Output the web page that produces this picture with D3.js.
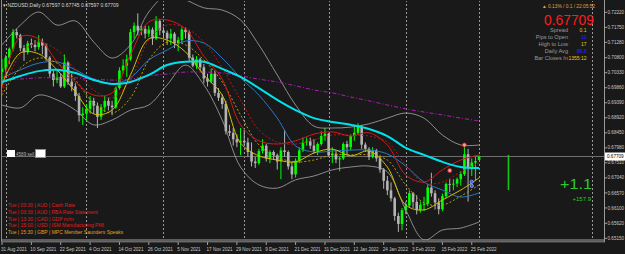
<!DOCTYPE html>
<html>
<head>
<meta charset="utf-8">
<script src="https://cdnjs.cloudflare.com/ajax/libs/d3/7.8.5/d3.min.js"></script>
<style>
body { margin: 0; background: #191919; }
text { font-family: "Liberation Sans", Arial, sans-serif; }
</style>
</head>
<body>
<div id="chart"></div>
<script>
// NZDUSD daily, 31 Aug 2021 .. 1 Mar 2022 (one value per bar)
var opens = [0.7035,0.7046,0.7080,0.7108,0.7160,0.7150,0.7110,0.7097,0.7125,0.7120,0.7113,0.7130,0.7118,0.7080,0.7030,0.7010,0.7020,0.6990,0.7065,0.7005,
  0.6990,0.6960,0.6900,0.6905,0.6920,0.6945,0.6930,0.6895,0.6925,0.6945,0.6930,0.6925,0.6985,0.7040,0.7055,0.7075,0.7160,0.7180,0.7165,0.7170,
  0.7155,0.7168,0.7140,0.7195,0.7165,0.7158,0.7140,0.7155,0.7125,0.7135,0.7168,0.7160,0.7080,0.7055,0.7075,0.7050,0.7015,0.7005,0.7030,0.6970,
  0.6955,0.6935,0.6850,0.6845,0.6825,0.6815,0.6820,0.6815,0.6785,0.6755,0.6750,0.6788,0.6805,0.6765,0.6785,0.6775,0.6755,0.6790,0.6785,0.6740,
  0.6715,0.6758,0.6790,0.6815,0.6818,0.6805,0.6788,0.6810,0.6835,0.6842,0.6775,0.6780,0.6762,0.6765,0.6810,0.6800,0.6835,0.6845,0.6865,0.6808,
  0.6795,0.6770,0.6790,0.6765,0.6730,0.6695,0.6665,0.6640,0.6585,0.6560,0.6603,0.6617,0.6656,0.6629,0.6603,0.6620,0.6623,0.6674,0.6656,0.6627,
  0.6606,0.6647,0.6685,0.6683,0.6686,0.6700,0.6716,0.6778,0.6733,0.6752,0.67597];
var highs = [0.7075,0.7088,0.7112,0.7170,0.7170,0.7155,0.7120,0.7133,0.7140,0.7135,0.7150,0.7140,0.7125,0.7085,0.7040,0.7040,0.7030,0.7090,0.7070,0.7030,
  0.7000,0.6970,0.6925,0.6935,0.6960,0.6955,0.6940,0.6935,0.6960,0.6955,0.6945,0.6990,0.7050,0.7075,0.7090,0.7170,0.7190,0.7219,0.7180,0.7180,
  0.7180,0.7175,0.7210,0.7200,0.7175,0.7165,0.7170,0.7160,0.7145,0.7175,0.7175,0.7165,0.7090,0.7085,0.7080,0.7060,0.7030,0.7045,0.7040,0.6985,
  0.6965,0.6945,0.6870,0.6860,0.6840,0.6860,0.6855,0.6830,0.6815,0.6770,0.6795,0.6825,0.6810,0.6790,0.6790,0.6780,0.6800,0.6855,0.6790,0.6755,
  0.6765,0.6800,0.6830,0.6830,0.6830,0.6825,0.6815,0.6850,0.6860,0.6845,0.6800,0.6790,0.6770,0.6815,0.6820,0.6840,0.6870,0.6875,0.6870,0.6815,
  0.6800,0.6800,0.6795,0.6775,0.6735,0.6710,0.6690,0.6645,0.6595,0.6610,0.6630,0.6665,0.6660,0.6650,0.6630,0.6645,0.6685,0.6720,0.6665,0.6640,
  0.6655,0.6690,0.6700,0.6700,0.6705,0.6725,0.6805,0.6795,0.6765,0.6770,0.67745];
var lows = [0.7005,0.7030,0.7060,0.7100,0.7140,0.7100,0.7070,0.7090,0.7110,0.7100,0.7105,0.7090,0.7070,0.7020,0.6990,0.7000,0.6985,0.6985,0.6995,0.6975,
  0.6945,0.6880,0.6870,0.6880,0.6905,0.6905,0.6860,0.6885,0.6910,0.6915,0.6900,0.6920,0.6980,0.7030,0.7020,0.7070,0.7140,0.7150,0.7150,0.7140,
  0.7145,0.7120,0.7135,0.7150,0.7140,0.7120,0.7120,0.7110,0.7100,0.7125,0.7140,0.7070,0.7050,0.7045,0.7040,0.7000,0.6990,0.7000,0.6960,0.6945,
  0.6920,0.6840,0.6835,0.6805,0.6800,0.6775,0.6805,0.6770,0.6740,0.6735,0.6745,0.6780,0.6755,0.6750,0.6760,0.6730,0.6700,0.6770,0.6730,0.6700,
  0.6705,0.6750,0.6785,0.6805,0.6795,0.6780,0.6775,0.6805,0.6820,0.6770,0.6750,0.6750,0.6725,0.6760,0.6775,0.6790,0.6820,0.6840,0.6795,0.6785,
  0.6760,0.6765,0.6755,0.6720,0.6670,0.6650,0.6630,0.6570,0.6535,0.6540,0.6590,0.6610,0.6610,0.6590,0.6595,0.6600,0.6615,0.6645,0.6605,0.6590,
  0.6600,0.6640,0.6660,0.6665,0.6675,0.6680,0.6710,0.6630,0.6710,0.6695,0.67597];
var closes = [0.7046,0.7080,0.7108,0.7160,0.7150,0.7110,0.7097,0.7125,0.7120,0.7113,0.7130,0.7118,0.7080,0.7030,0.7010,0.7020,0.6990,0.7065,0.7005,0.6990,
  0.6960,0.6900,0.6905,0.6920,0.6945,0.6930,0.6895,0.6925,0.6945,0.6930,0.6925,0.6985,0.7040,0.7055,0.7075,0.7160,0.7180,0.7165,0.7170,0.7155,
  0.7168,0.7140,0.7195,0.7165,0.7158,0.7140,0.7155,0.7125,0.7135,0.7168,0.7160,0.7080,0.7055,0.7075,0.7050,0.7015,0.7005,0.7030,0.6970,0.6955,
  0.6935,0.6850,0.6845,0.6825,0.6815,0.6820,0.6815,0.6785,0.6755,0.6750,0.6788,0.6805,0.6765,0.6785,0.6775,0.6755,0.6790,0.6785,0.6740,0.6715,
  0.6758,0.6790,0.6815,0.6818,0.6805,0.6788,0.6810,0.6835,0.6842,0.6775,0.6780,0.6762,0.6765,0.6810,0.6800,0.6835,0.6845,0.6865,0.6808,0.6795,
  0.6770,0.6790,0.6765,0.6730,0.6695,0.6665,0.6640,0.6585,0.6560,0.6603,0.6617,0.6656,0.6629,0.6603,0.6620,0.6623,0.6674,0.6656,0.6627,0.6606,
  0.6647,0.6685,0.6683,0.6686,0.6700,0.6716,0.6778,0.6733,0.6752,0.6757,0.67709];

// indicator readings, taken every 5th bar
var sampleIdx = [0,5,10,15,20,25,30,35,40,45,50,55,60,65,70,75,80,85,90,95,100,105,110,115,120,125,130];
var maCyan = [0.7004,0.7023,0.7038,0.7042,0.7032,0.7010,0.6998,0.7004,0.7026,0.7057,0.7067,0.7067,0.7045,0.7020,0.6985,0.6948,0.6916,0.6891,0.6879,0.6870,0.6857,0.6835,0.6798,0.6776,0.6754,0.6738,0.6735];
var maPurple = [0.7010,0.7013,0.7017,0.7017,0.7017,0.7013,0.7010,0.7013,0.7023,0.7029,0.7035,0.7035,0.7032,0.7023,0.7013,0.7004,0.6992,0.6979,0.6970,0.6957,0.6945,0.6932,0.6920,0.6910,0.6901,0.6891,0.6882];
var maBlue = [0.7017,0.7042,0.7063,0.7067,0.7042,0.7013,0.6998,0.7017,0.7073,0.7104,0.7132,0.7126,0.7079,0.7017,0.6963,0.6891,0.6804,0.6785,0.6788,0.6791,0.6791,0.6779,0.6741,0.6691,0.6666,0.6644,0.6657];
var highMa = [0.6985,0.7145,0.7139,0.7067,0.7004,0.6963,0.6970,0.7089,0.7192,0.7198,0.7170,0.7085,0.7013,0.6870,0.6820,0.6810,0.6820,0.6841,0.6848,0.6835,0.6845,0.6807,0.6713,0.6691,0.6729,0.6760,0.6776];
var highMaSlow = [0.6973,0.7089,0.7129,0.7104,0.7042,0.6979,0.6954,0.7010,0.7135,0.7182,0.7173,0.7129,0.7048,0.6948,0.6854,0.6816,0.6810,0.6823,0.6838,0.6838,0.6835,0.6816,0.6744,0.6688,0.6691,0.6723,0.6751];
var lowMa = [0.6995,0.7095,0.7092,0.7042,0.6973,0.6904,0.6916,0.7026,0.7139,0.7135,0.7098,0.7026,0.6963,0.6813,0.6773,0.6760,0.6754,0.6782,0.6794,0.6773,0.6788,0.6738,0.6619,0.6604,0.6635,0.6666,0.6704];
var lowMaSlow = [0.6963,0.7048,0.7079,0.7063,0.7010,0.6938,0.6907,0.6954,0.7073,0.7129,0.7120,0.7073,0.7004,0.6901,0.6807,0.6769,0.6754,0.6760,0.6776,0.6776,0.6776,0.6760,0.6682,0.6626,0.6619,0.6647,0.6682];
var bandUpper = [0.7120,0.7182,0.7223,0.7182,0.7195,0.7129,0.7079,0.7120,0.7223,0.7276,0.7261,0.7236,0.7229,0.7198,0.7120,0.7026,0.6932,0.6866,0.6860,0.6863,0.6873,0.6891,0.6907,0.6891,0.6838,0.6807,0.6807];
var bandLower = [0.6932,0.6923,0.6963,0.6948,0.6916,0.6870,0.6885,0.6916,0.6932,0.6995,0.7057,0.6995,0.6885,0.6738,0.6682,0.6672,0.6698,0.6710,0.6729,0.6738,0.6741,0.6723,0.6604,0.6510,0.6541,0.6547,0.6566];

// price axis labels
var priceTicks = [0.72220,0.71750,0.71280,0.70800,0.70330,0.69860,0.69390,0.68920,0.68450,0.67980,0.67510,0.67040,0.66570,0.66100,0.65620,0.65150];
var lastPrice = 0.67709;

// trade marks on the last bars
var markIdx = [126, 122, 128, 128];
var markPrice = [0.6807, 0.6727, 0.6692, 0.6679];
var markSide = ['sell', 'sell', 'buy', 'buy'];

// side indicator bar (future area)
var sideBarIdx = 138;
var sideBarTop = 0.6776;
var sideBarBottom = 0.6666;
var shiftIdx = 160.8;

var infoLabels = ['Spread', 'Pips to Open', 'High to Low', 'Daily Avg', 'Bar Closes In'];
var infoValues = ['0.1', '11', '17', '86.8', '1355:12'];
var infoKinds = ['y', 'b', 'y', 'b', 'y'];

var events = ['Tue | 03:30 | AUD | Cash Rate', 'Tue | 03:30 | AUD | RBA Rate Statement', 'Tue | 13:30 | CAD | GDP m/m',
  'Tue | 15:00 | USD | ISM Manufacturing PMI', 'Tue | 15:30 | GBP | MPC Member Saunders Speaks'];
var eventImpact = ['high', 'high', 'high', 'high', 'medium'];

var width = 625, height = 254;
var plotRight = 604, plotBottom = 241;

// trading days: weekdays only
var dates = d3.timeDay.range(new Date(2021, 7, 31), new Date(2022, 2, 2))
  .filter(function(d){ return d.getDay() !== 0 && d.getDay() !== 6; });

var x = d3.scaleLinear().domain([0, 130]).range([2, 479.1]);
var y = d3.scaleLinear().domain([0.65066, 0.72605]).range([plotBottom, 0]);

var svg = d3.select('#chart').append('svg')
  .attr('width', width).attr('height', height)
  .style('background', '#191919');

svg.append('clipPath').attr('id', 'plot')
  .append('rect').attr('x', 2).attr('y', 1).attr('width', plotRight - 2).attr('height', plotBottom - 2);

var plot = svg.append('g').attr('clip-path', 'url(#plot)');

// month separators
var sepIdx = dates.map(function(d, i){ return i; })
  .filter(function(i){ return i > 0 && dates[i].getMonth() !== dates[i - 1].getMonth(); });
sepIdx.push(shiftIdx);
plot.selectAll('line.sep').data(sepIdx).enter().append('line')
  .attr('class', 'sep')
  .attr('x1', function(d){ return Math.round(x(d)) + 0.5; })
  .attr('x2', function(d){ return Math.round(x(d)) + 0.5; })
  .attr('y1', 0).attr('y2', plotBottom)
  .style('stroke', '#9a9a9a').style('stroke-dasharray', '2,2');

// last price line
plot.append('line')
  .attr('x1', 2).attr('x2', plotRight)
  .attr('y1', y(lastPrice)).attr('y2', y(lastPrice))
  .style('stroke', '#6e6e6e');

// candles
var bars = dates.map(function(d, i){
  return { i: i, o: opens[i], h: highs[i], l: lows[i], c: closes[i] };
});
var candle = plot.selectAll('g.bar').data(bars).enter().append('g').attr('class', 'bar');
candle.append('line')
  .attr('x1', function(d){ return x(d.i); })
  .attr('x2', function(d){ return x(d.i); })
  .attr('y1', function(d){ return y(d.h); })
  .attr('y2', function(d){ return y(d.l); })
  .style('stroke', function(d){ return d.c >= d.o ? '#00ff00' : '#b4b4b4'; });
candle.append('rect')
  .attr('x', function(d){ return x(d.i) - 1.3; })
  .attr('width', 2.6)
  .attr('y', function(d){ return y(Math.max(d.o, d.c)); })
  .attr('height', function(d){ return Math.max(0.8, Math.abs(y(d.o) - y(d.c))); })
  .style('fill', function(d){ return d.c >= d.o ? '#00ff00' : '#b4b4b4'; });

// indicator lines
var lineGen = d3.line()
  .x(function(d){ return x(d[0]); })
  .y(function(d){ return y(d[1]); })
  .curve(d3.curveCatmullRom);
function drawLine(values, color, w, dash){
  var pts = sampleIdx.map(function(s, k){ return [s, values[k]]; });
  plot.append('path').datum(pts)
    .attr('d', lineGen)
    .style('fill', 'none')
    .style('stroke', color)
    .style('stroke-width', w)
    .style('stroke-dasharray', dash || null);
}
drawLine(bandUpper, '#a8a8a8', 0.8);
drawLine(bandLower, '#a8a8a8', 0.8);
drawLine(maPurple, '#b01ab8', 1, '4,2,1,2');
drawLine(maBlue, '#2a78c8', 1);
drawLine(highMaSlow, '#b81414', 1, '2,2');
drawLine(lowMaSlow, '#b8a000', 1, '2,2');
drawLine(highMa, '#d41818', 1);
drawLine(lowMa, '#d2be00', 1);
drawLine(maCyan, '#00e2ea', 2);

// trade marks
plot.selectAll('circle.mark').data(markIdx).enter().append('circle')
  .attr('class', 'mark')
  .attr('cx', function(d){ return x(d); })
  .attr('cy', function(d, k){ return y(markPrice[k]); })
  .attr('r', function(d, k){ return markSide[k] === 'sell' ? 2 : 1.6; })
  .style('fill', function(d, k){ return markSide[k] === 'sell' ? '#f0a0a0' : '#3050ff'; })
  .style('stroke', function(d, k){ return markSide[k] === 'sell' ? '#e02020' : '#a0b0ff'; })
  .style('stroke-width', 0.8);

// side indicator bar
plot.append('line')
  .attr('x1', x(sideBarIdx)).attr('x2', x(sideBarIdx))
  .attr('y1', y(sideBarTop)).attr('y2', y(sideBarBottom))
  .style('stroke', '#10c810').style('stroke-width', 1.6);

// frame
svg.append('line').attr('x1', 1.5).attr('x2', 1.5).attr('y1', 0).attr('y2', plotBottom).style('stroke', '#8a8a8a');
svg.append('line').attr('x1', plotRight + 0.5).attr('x2', plotRight + 0.5).attr('y1', 0).attr('y2', plotBottom + 1).style('stroke', '#9a9a9a');
svg.append('line').attr('x1', 1).attr('x2', plotRight + 1).attr('y1', plotBottom - 1).attr('y2', plotBottom - 1).style('stroke', '#a0a0a0').style('stroke-width', 1.2);
svg.append('line').attr('x1', 1).attr('x2', plotRight + 1).attr('y1', plotBottom + 0.8).attr('y2', plotBottom + 0.8).style('stroke', '#8c8c8c');

// price axis
var pa = svg.append('g');
pa.selectAll('line').data(priceTicks).enter().append('line')
  .attr('x1', plotRight).attr('x2', plotRight + 3)
  .attr('y1', function(d){ return y(d); }).attr('y2', function(d){ return y(d); })
  .style('stroke', '#a0a0a0');
pa.selectAll('text').data(priceTicks).enter().append('text')
  .attr('x', plotRight + 3.5)
  .attr('y', function(d){ return y(d) + 1.6; })
  .style('font-size', '4.6px').style('fill', '#c8c8c8')
  .text(function(d){ return d.toFixed(5); });
pa.append('rect').attr('x', plotRight + 1).attr('y', y(lastPrice) - 4)
  .attr('width', 20).attr('height', 8).style('fill', '#ffffff');
pa.append('text').attr('x', plotRight + 3).attr('y', y(lastPrice) + 1.7)
  .style('font-size', '4.6px').style('fill', '#000000')
  .text(lastPrice.toFixed(5));

// date axis
var fmt = d3.timeFormat('%-d %b %Y');
var dateIdx = d3.range(0, dates.length, 8);
var da = svg.append('g');
da.selectAll('line').data(dateIdx).enter().append('line')
  .attr('x1', function(d){ return x(d); }).attr('x2', function(d){ return x(d); })
  .attr('y1', plotBottom + 1).attr('y2', plotBottom + 4)
  .style('stroke', '#a0a0a0');
da.selectAll('text').data(dateIdx).enter().append('text')
  .attr('x', function(d){ return x(d) - 1; })
  .attr('y', 250.5)
  .style('font-size', '4.6px').style('fill', '#c8c8c8')
  .text(function(d){ return fmt(dates[d]); });

// title
svg.append('text').attr('x', 3).attr('y', 6.5)
  .style('font-size', '5px').style('fill', '#d8d8d8')
  .text('\u25BE NZDUSD,Daily  ' + opens[130].toFixed(5) + ' ' + highs[130].toFixed(5) + ' ' + lows[130].toFixed(5) + ' ' + closes[130].toFixed(5));

// info panel
var info = svg.append('g');
info.append('text').attr('x', 595).attr('y', 8.2).attr('text-anchor', 'end')
  .style('font-size', '4.8px').style('fill', '#e0a040')
  .text('\u25B2 0.13% / 0.1 / 22:05:52');
info.append('text').attr('x', 594).attr('y', 24.5).attr('text-anchor', 'end')
  .attr('textLength', 50).attr('lengthAdjust', 'spacingAndGlyphs')
  .style('font-size', '14.5px').style('fill', '#ff1c1c')
  .text(lastPrice.toFixed(5));
info.selectAll('text.lab').data(infoLabels).enter().append('text')
  .attr('class', 'lab')
  .attr('x', 568).attr('y', function(d, k){ return 31.5 + k * 7.2; })
  .attr('text-anchor', 'end')
  .style('font-size', '5.6px').style('fill', '#9a9a9a')
  .text(function(d){ return d; });
info.selectAll('text.val').data(infoValues).enter().append('text')
  .attr('class', 'val')
  .attr('x', 586.5).attr('y', function(d, k){ return 31.5 + k * 7.2; })
  .attr('text-anchor', 'end')
  .style('font-size', '5px')
  .style('fill', function(d, k){ return infoKinds[k] === 'b' ? '#2828ff' : '#e8c800'; })
  .text(function(d){ return d; });

// profit readout
svg.append('text').attr('x', 592).attr('y', 189).attr('text-anchor', 'end')
  .attr('textLength', 32).attr('lengthAdjust', 'spacingAndGlyphs')
  .style('font-size', '15px').style('fill', '#2ec82e')
  .text('+1.1');
svg.append('text').attr('x', 591).attr('y', 200.5).attr('text-anchor', 'end')
  .style('font-size', '6px').style('fill', '#2ec82e')
  .text('+157.9');

// open trade label
svg.append('rect').attr('x', 7).attr('y', 150).attr('width', 8).attr('height', 7).style('fill', '#ffffff');
svg.append('text').attr('x', 16).attr('y', 155.6)
  .style('font-size', '4.6px').style('fill', '#b0b0b0').text('4589 sell');
svg.append('rect').attr('x', 35.5).attr('y', 149.5).attr('width', 10).attr('height', 8)
  .style('fill', '#ffffff').style('stroke', '#909090');

// calendar events
svg.selectAll('text.ev').data(events).enter().append('text')
  .attr('class', 'ev')
  .attr('x', 8).attr('y', function(d, k){ return 207 + k * 6.8; })
  .style('font-size', '5px')
  .style('fill', function(d, k){ return eventImpact[k] === 'high' ? '#e01c1c' : '#e0a020'; })
  .text(function(d){ return d; });
</script>
</body>
</html>
